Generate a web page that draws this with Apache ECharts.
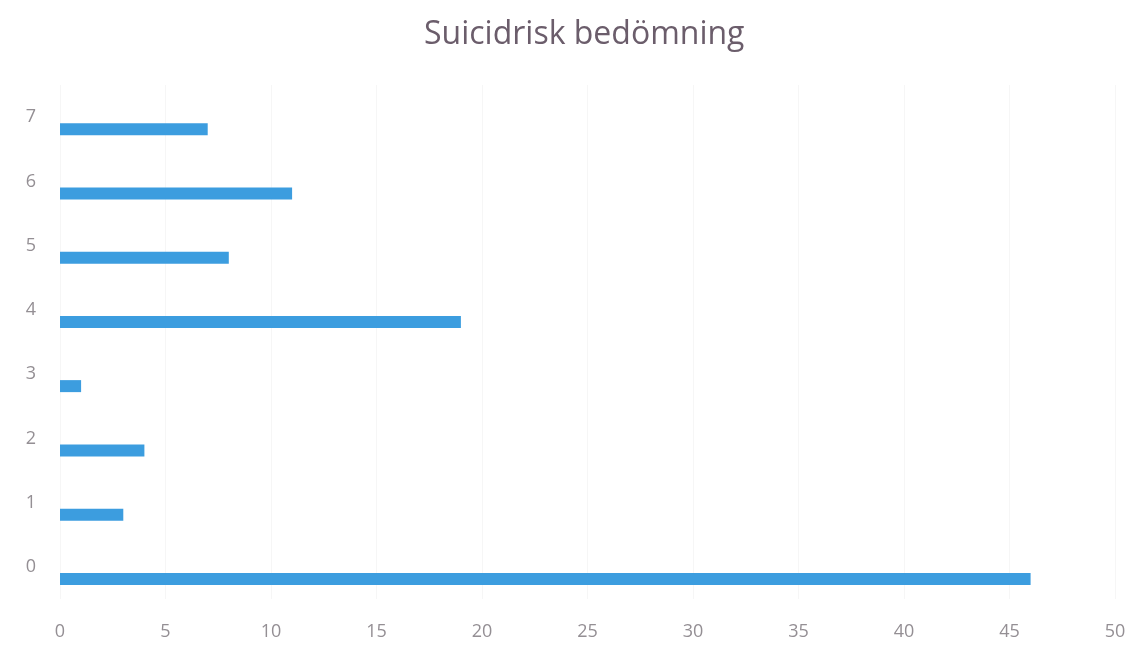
<!DOCTYPE html>
<html>
<head>
<meta charset="utf-8">
<title>Suicidrisk bedömning</title>
<script src="https://cdn.jsdelivr.net/npm/echarts@6/dist/echarts.min.js"></script>
<style>
  html, body { margin: 0; padding: 0; background: #ffffff; }
  #chart { width: 1141px; height: 655px; }
</style>
</head>
<body>
<div id="chart"></div>
<script>
// Risk score categories (y axis) and number of assessments per score
const categories = ['0', '1', '2', '3', '4', '5', '6', '7'];
const counts = [46, 3, 4, 1, 19, 8, 11, 7];
// First series of the workbook is empty; it only reserves the upper slot in each band
const emptySeries = [null, null, null, null, null, null, null, null];
const xTicks = { min: 0, max: 50, interval: 5 };

const chart = echarts.init(document.getElementById('chart'));
const labelFont = "'Open Sans', 'Noto Sans', sans-serif";

chart.setOption({
  backgroundColor: '#ffffff',
  animation: false,
  title: {
    text: 'Suicidrisk bedömning',
    left: 419,
    top: 14,
    textStyle: {
      fontFamily: labelFont,
      fontSize: 32,
      fontWeight: 'normal',
      color: '#6b5d6b'
    }
  },
  grid: { left: 60, right: 26, top: 85, bottom: 56, containLabel: false },
  xAxis: {
    type: 'value',
    min: xTicks.min,
    max: xTicks.max,
    interval: xTicks.interval,
    axisLine: { show: false },
    axisTick: { show: false },
    splitLine: { show: true, lineStyle: { color: '#f6f6f6', width: 1 } },
    axisLabel: {
      margin: 24,
      fontFamily: labelFont,
      fontSize: 18,
      color: '#948f94'
    }
  },
  yAxis: {
    type: 'category',
    data: categories,
    axisLine: { show: false },
    axisTick: { show: false },
    splitLine: { show: false },
    axisLabel: {
      margin: 24,
      fontFamily: labelFont,
      fontSize: 18,
      color: '#948f94'
    }
  },
  series: [
    {
      name: 'Serie 1',
      type: 'bar',
      data: emptySeries,
      barWidth: 12,
      barGap: '100%',
      itemStyle: { color: '#3c9ddf' }
    },
    {
      name: 'Antal',
      type: 'bar',
      data: counts,
      barWidth: 12,
      barGap: '100%',
      itemStyle: { color: '#3c9ddf' }
    }
  ]
});
</script>
</body>
</html>
